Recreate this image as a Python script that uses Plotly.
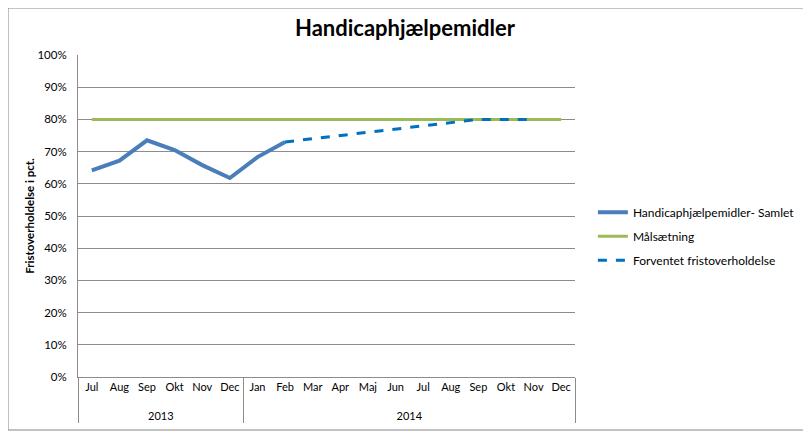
import plotly.graph_objects as go

years = ["2013"] * 6 + ["2014"] * 12
months = ["Jul", "Aug", "Sep", "Okt", "Nov", "Dec",
          "Jan", "Feb", "Mar", "Apr", "Maj", "Jun",
          "Jul", "Aug", "Sep", "Okt", "Nov", "Dec"]

samlet = [0.642, 0.672, 0.735, 0.705, 0.658, 0.618, 0.683, 0.730,
          None, None, None, None, None, None, None, None, None, None]
maal = [0.80] * 18
forventet = [None, None, None, None, None, None, None, 0.730,
             0.740, 0.750, 0.760, 0.770, 0.780, 0.790, 0.800, 0.800, 0.800, None]

# display labels: 2014 Jul–Dec get a zero-width space to stay distinct from 2013;
# an empty second line gives the year row Excel-like spacing
month_labels = []
for y, m in zip(years, months):
    lab = m + ("\u200b" if y == "2014" and m in months[:6] else "")
    month_labels.append(lab + "<br>\u00a0")
xcat = [years, month_labels]

font = "Lato"
fig = go.Figure()
fig.add_trace(go.Scatter(x=xcat, y=maal, mode="lines",
                         name="Målsætning", legendgroup="b", legendrank=2,
                         line=dict(color="#9BBB59", width=3)))
fig.add_trace(go.Scatter(x=xcat, y=samlet, mode="lines",
                         name="Handicaphjælpemidler- Samlet", legendgroup="a", legendrank=1,
                         line=dict(color="#4A7EBB", width=4)))
fig.add_trace(go.Scatter(x=xcat, y=forventet, mode="lines",
                         name="Forventet fristoverholdelse", legendgroup="c", legendrank=3,
                         line=dict(color="#0070C0", width=3, dash="dash")))

# page body has an 8px margin, so the figure is drawn 8px right/down
W, H = 803, 427
fig.update_layout(
    width=W, height=H,
    margin=dict(l=70, r=236, t=47, b=58, autoexpand=False),
    paper_bgcolor="white", plot_bgcolor="white",
    font=dict(family=font, size=11, color="black"),
    title=dict(text="<b>Handicaphjælpemidler</b>", x=(405 - 8) / W, xanchor="center",
               y=1 - 20 / H, yanchor="middle", font=dict(size=22, family=font)),
    showlegend=True,
    legend=dict(x=1.036, y=0.557, xanchor="left", yanchor="top",
                font=dict(size=12, family=font), tracegroupgap=5,
                bgcolor="rgba(0,0,0,0)"),
    shapes=[dict(type="rect", xref="paper", yref="paper",
                 x0=-0.1408, x1=1.4668, y0=-0.1646, y1=1.146,
                 line=dict(color="#868686", width=1))],
)
fig.update_yaxes(range=[0, 1], dtick=0.1, tickformat=".0%", automargin=False,
                 showgrid=True, gridcolor="#8C8C8C", gridwidth=1,
                 zeroline=False, showline=True, linecolor="#8C8C8C",
                 title=dict(text="<b>Fristoverholdelse i pct.</b>", font=dict(size=11.5), standoff=0),
                 ticks="", ticklen=0, ticklabelstandoff=8, tickfont=dict(size=11.5))
fig.update_xaxes(type="multicategory", range=[-0.5, 17.5], showline=True, linecolor="#8C8C8C",
                 automargin=False, tickangle=0,
                 showgrid=False, showdividers=True, dividercolor="#8C8C8C", dividerwidth=1,
                 ticks="", tickfont=dict(size=11))

fig.write_html("out.html")
